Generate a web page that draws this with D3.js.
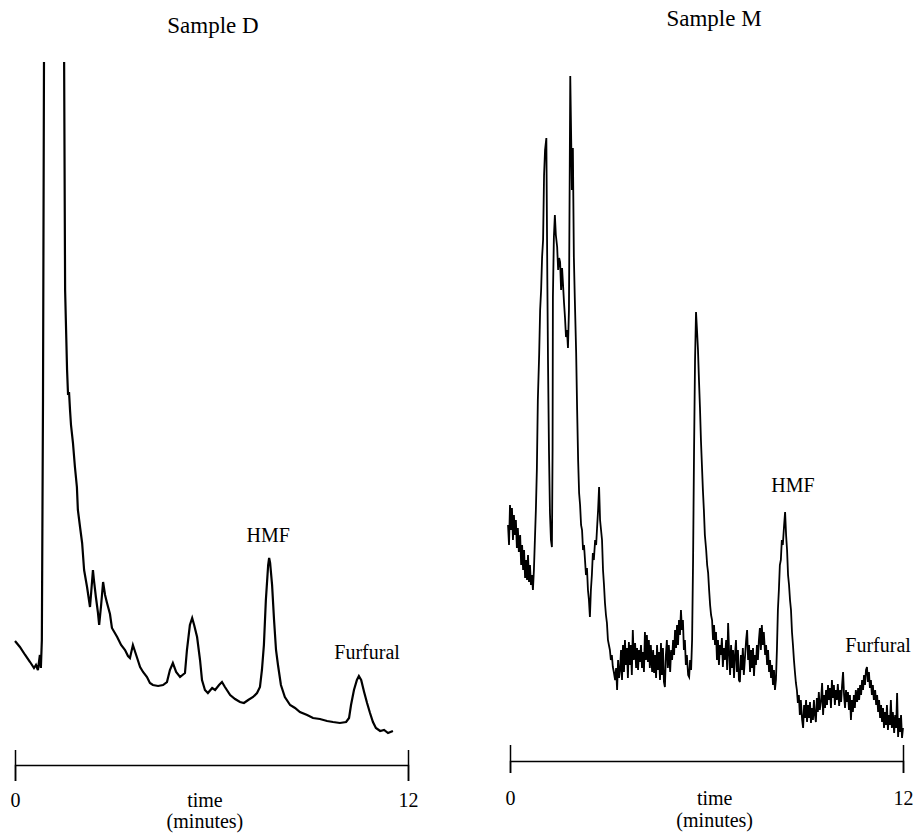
<!DOCTYPE html>
<html>
<head>
<meta charset="utf-8">
<script src="https://cdn.jsdelivr.net/npm/d3@7"></script>
<style>
  body { margin: 0; background: #fff; }
  text { font-family: "Liberation Serif", "Times New Roman", "DejaVu Serif", serif; fill: #000; }
  .axis path, .axis line { stroke: #000; stroke-width: 1.5; }
  .axis text { font-size: 20px; font-family: "Liberation Serif", "Times New Roman", serif; }
</style>
</head>
<body>
<div class="graph"></div>
<script>
/*---------- DATA ----------*/

// time (minutes), detector response (arbitrary units, 680 = top of plot)
const sampleD = [
  [0.00,101],[0.15,95],[0.31,87],[0.46,80],[0.58,74],[0.64,77],[0.70,72],[0.76,87],[0.79,74],[0.82,102],
  [0.855,342],[0.885,680],[0.92,900],[1.20,1400],[1.46,900],[1.50,680],[1.53,452],[1.59,372],[1.62,347],
  [1.65,350],[1.68,332],[1.71,317],[1.77,299],[1.83,275],[1.89,255],[1.92,232],[1.99,214],[2.05,199],
  [2.11,172],[2.20,155],[2.29,135],[2.32,147],[2.38,172],[2.41,162],[2.47,145],[2.53,130],[2.57,117],
  [2.63,137],[2.69,160],[2.75,147],[2.81,139],[2.90,128],[2.96,114],[3.12,105],[3.24,97],[3.36,92],
  [3.45,86],[3.51,84],[3.60,97],[3.70,87],[3.82,75],[3.91,70],[4.03,65],[4.12,59],[4.21,57],[4.37,56],
  [4.52,57],[4.64,60],[4.73,72],[4.82,79],[4.92,70],[5.04,65],[5.19,69],[5.25,92],[5.34,117],[5.41,124],
  [5.47,117],[5.56,105],[5.65,82],[5.71,62],[5.80,52],[5.89,49],[6.02,54],[6.11,52],[6.23,57],[6.32,60],
  [6.41,55],[6.57,47],[6.72,43],[6.87,40],[6.99,39],[7.12,42],[7.27,45],[7.39,49],[7.48,55],[7.54,72],
  [7.60,97],[7.66,142],[7.73,177],[7.76,184],[7.79,179],[7.85,157],[7.91,122],[7.97,92],[8.03,77],
  [8.12,57],[8.24,45],[8.40,37],[8.55,34],[8.70,30],[8.92,27],[9.10,24],[9.31,23],[9.53,21],[9.71,20],
  [9.92,19],[10.11,20],[10.20,24],[10.26,37],[10.35,52],[10.44,62],[10.50,66],[10.57,62],[10.66,50],
  [10.75,39],[10.84,29],[10.93,20],[11.02,14],[11.15,11],[11.27,12],[11.39,9],[11.54,11]
];

const sampleM = [
  [-0.06,217],[-0.03,197],[0.00,237],[0.03,212],[0.06,234],[0.09,202],[0.12,227],[0.15,207],[0.18,222],
  [0.21,194],[0.24,214],[0.27,190],[0.31,207],[0.34,177],[0.37,197],[0.40,172],[0.43,192],[0.46,164],
  [0.49,182],[0.52,162],[0.55,187],[0.58,160],[0.61,177],[0.64,157],[0.67,167],[0.70,152],[0.73,172],
  [0.76,202],[0.79,232],[0.82,272],[0.85,342],[0.89,387],[0.92,432],[0.95,452],[0.98,485],[1.01,502],
  [1.04,567],[1.07,592],[1.11,604],[1.14,462],[1.16,382],[1.19,292],[1.22,229],[1.25,202],[1.28,195],
  [1.30,292],[1.31,445],[1.34,505],[1.37,527],[1.40,507],[1.44,495],[1.47,472],[1.50,484],[1.53,480],
  [1.56,452],[1.59,474],[1.62,457],[1.65,439],[1.68,424],[1.71,405],[1.74,412],[1.77,394],[1.80,432],
  [1.82,549],[1.84,666],[1.86,622],[1.89,552],[1.92,594],[1.95,485],[1.98,442],[2.02,389],[2.05,332],
  [2.08,282],[2.11,249],[2.14,237],[2.17,217],[2.20,212],[2.23,192],[2.26,197],[2.29,182],[2.32,167],
  [2.35,174],[2.38,152],[2.41,142],[2.44,125],[2.47,152],[2.50,167],[2.53,189],[2.56,182],[2.60,202],
  [2.63,197],[2.66,215],[2.69,232],[2.72,255],[2.75,222],[2.78,212],[2.81,202],[2.84,172],[2.87,157],
  [2.90,139],[2.93,127],[2.96,119],[2.99,102],[3.02,97],[3.05,92],[3.08,82],[3.11,87],[3.14,75],
  [3.17,70],[3.21,62],[3.24,74],[3.27,52],[3.30,82],[3.33,64],[3.36,72],[3.39,92],[3.42,62],[3.45,97],
  [3.48,70],[3.51,102],[3.54,77],[3.57,94],[3.60,64],[3.63,100],[3.66,77],[3.69,97],[3.72,67],[3.75,112],
  [3.78,82],[3.82,99],[3.85,74],[3.88,94],[3.91,72],[3.94,92],[3.97,80],[4.00,97],[4.03,74],[4.06,90],
  [4.09,70],[4.12,110],[4.15,82],[4.18,107],[4.21,80],[4.24,102],[4.27,74],[4.30,97],[4.34,70],[4.37,92],
  [4.40,69],[4.43,87],[4.46,64],[4.49,97],[4.52,72],[4.55,90],[4.58,62],[4.61,99],[4.64,67],[4.67,94],
  [4.70,60],[4.73,55],[4.76,87],[4.79,102],[4.82,74],[4.85,97],[4.89,70],[4.92,92],[4.95,82],[4.98,102],
  [5.01,87],[5.04,112],[5.07,94],[5.10,117],[5.13,97],[5.16,122],[5.19,107],[5.22,132],[5.25,112],
  [5.28,122],[5.31,92],[5.34,102],[5.37,77],[5.40,87],[5.44,67],[5.47,65],[5.50,82],[5.53,72],[5.56,102],
  [5.59,182],[5.62,292],[5.65,382],[5.68,430],[5.71,412],[5.74,392],[5.77,362],[5.80,335],[5.83,302],
  [5.86,277],[5.89,252],[5.92,232],[5.95,207],[5.99,192],[6.02,177],[6.05,169],[6.08,152],[6.11,137],
  [6.14,127],[6.17,122],[6.20,102],[6.23,117],[6.26,97],[6.29,110],[6.32,82],[6.35,102],[6.38,77],
  [6.41,97],[6.44,87],[6.47,104],[6.50,75],[6.53,94],[6.56,82],[6.60,102],[6.63,72],[6.66,119],[6.69,90],
  [6.72,67],[6.75,97],[6.78,74],[6.81,92],[6.84,64],[6.87,87],[6.90,102],[6.93,70],[6.96,92],[6.99,62],
  [7.02,60],[7.05,87],[7.08,72],[7.11,94],[7.14,67],[7.18,87],[7.21,102],[7.24,112],[7.27,82],[7.30,97],
  [7.33,70],[7.36,92],[7.39,74],[7.42,94],[7.45,66],[7.48,87],[7.51,77],[7.54,97],[7.57,82],[7.60,102],
  [7.63,114],[7.66,92],[7.69,117],[7.72,97],[7.75,110],[7.79,87],[7.82,97],[7.85,77],[7.88,92],[7.91,70],
  [7.94,82],[7.97,64],[8.00,77],[8.03,57],[8.06,72],[8.09,52],[8.12,62],[8.15,92],[8.18,132],[8.21,152],
  [8.24,177],[8.27,182],[8.30,202],[8.33,197],[8.37,217],[8.40,230],[8.43,207],[8.46,192],[8.49,167],
  [8.52,157],[8.55,142],[8.58,132],[8.61,110],[8.64,97],[8.67,82],[8.70,70],[8.73,59],[8.76,52],[8.79,39],
  [8.82,47],[8.85,27],[8.88,42],[8.92,22],[8.95,14],[8.98,37],[9.01,24],[9.04,42],[9.07,20],[9.10,37],
  [9.13,24],[9.16,40],[9.19,19],[9.22,34],[9.25,22],[9.28,42],[9.31,27],[9.34,20],[9.37,44],[9.40,30],
  [9.43,50],[9.46,32],[9.50,42],[9.53,59],[9.56,27],[9.59,47],[9.62,34],[9.65,52],[9.68,37],[9.71,57],
  [9.74,42],[9.77,54],[9.80,34],[9.83,62],[9.86,44],[9.89,57],[9.92,37],[9.95,52],[9.98,42],[10.01,58],
  [10.05,36],[10.08,52],[10.11,40],[10.14,57],[10.17,70],[10.20,47],[10.23,34],[10.26,52],[10.29,40],
  [10.32,50],[10.35,32],[10.38,47],[10.41,22],[10.44,42],[10.47,30],[10.50,47],[10.53,34],[10.56,52],
  [10.60,40],[10.63,54],[10.66,42],[10.69,57],[10.72,47],[10.75,62],[10.78,52],[10.81,67],[10.84,57],
  [10.87,72],[10.90,75],[10.93,60],[10.96,70],[10.99,54],[11.02,62],[11.05,47],[11.08,57],[11.11,42],
  [11.15,52],[11.18,37],[11.21,47],[11.24,30],[11.27,42],[11.30,24],[11.33,37],[11.36,20],[11.39,34],
  [11.42,14],[11.45,30],[11.48,17],[11.51,37],[11.54,12],[11.57,27],[11.60,17],[11.63,42],[11.66,14],
  [11.69,30],[11.73,9],[11.76,27],[11.79,14],[11.82,49],[11.85,5],[11.88,24],[11.91,10],[11.94,27],
  [11.97,4],[12.00,14]
];

const timeTicks = [0, 12];
const titles = ["Sample D", "Sample M"];
const axisLabel = ["time", "(minutes)"];
// peak labels: [name, time, response]
const labelsD = [["HMF", 7.73, 200], ["Furfural", 10.75, 83]];
const labelsM = [["HMF", 8.64, 250], ["Furfural", 11.24, 90]];

/*---------- LAYOUT ----------*/

const SIZE = {X: 913, Y: 833};
const PLOT_TOP = 62, PLOT_BASE = 742;
const FONT = '"Liberation Serif", "Times New Roman", "DejaVu Serif", serif';

const PANELS = [
  {title: titles[0], data: sampleD, labels: labelsD, X0: 15, X1: 408, AXIS_Y: 765, STROKE: 2.2,
   TICK_UP: 15, TICK_DOWN: 16, LABEL_PAD: 12, TITLE_X: 213, TITLE_Y: 33, MID_T: 5.8, NAME_Y: [807, 828]},
  {title: titles[1], data: sampleM, labels: labelsM, X0: 510, X1: 903, AXIS_Y: 761, STROKE: 1.8,
   TICK_UP: 16, TICK_DOWN: 12, LABEL_PAD: 18, TITLE_X: 714, TITLE_Y: 26, MID_T: 6.25, NAME_Y: [805, 827]}
];

const svg = d3.select(".graph").append("svg")
    .attr("width", SIZE.X)
    .attr("height", SIZE.Y)
    .style("background", "#fff");

//one shared response scale, clipped at the top like the recorder trace
const y = d3.scaleLinear()
    .domain([0, 680])
    .range([PLOT_BASE, PLOT_TOP]);

svg.append("defs").append("clipPath")
    .attr("id", "clip")
    .append("rect")
    .attr("x", 0)
    .attr("y", PLOT_TOP)
    .attr("width", SIZE.X)
    .attr("height", SIZE.Y - PLOT_TOP);

PANELS.forEach(p => {
    const x = d3.scaleLinear()
        .domain([timeTicks[0], timeTicks[1]])
        .range([p.X0, p.X1]);

    const g = svg.append("g");

    //title
    g.append("text")
        .attr("x", p.TITLE_X)
        .attr("y", p.TITLE_Y)
        .attr("text-anchor", "middle")
        .style("font-family", FONT)
        .style("font-size", "23px")
        .text(p.title);

    //chromatogram trace
    const line = d3.line()
        .x(d => x(d[0]))
        .y(d => y(d[1]));

    g.append("path")
        .attr("d", line(p.data))
        .attr("fill", "none")
        .attr("stroke", "#000")
        .attr("stroke-width", p.STROKE)
        .attr("clip-path", "url(#clip)");

    //peak labels
    g.selectAll(".peak")
        .data(p.labels)
        .enter().append("text")
        .attr("class", "peak")
        .attr("x", d => x(d[1]))
        .attr("y", d => y(d[2]))
        .attr("text-anchor", "middle")
        .style("font-family", FONT)
        .style("font-size", "20px")
        .text(d => d[0]);

    //time axis, ticks going both ways
    g.append("g")
        .attr("class", "axis")
        .attr("transform", `translate(0, ${p.AXIS_Y})`)
        .call(d3.axisBottom(x).tickValues(timeTicks).tickSizeOuter(0)
            .tickSize(p.TICK_DOWN).tickPadding(p.LABEL_PAD).tickFormat(d3.format("d")));

    g.append("g")
        .attr("class", "axis")
        .attr("transform", `translate(0, ${p.AXIS_Y})`)
        .call(d3.axisTop(x).tickValues(timeTicks).tickSizeOuter(0)
            .tickSize(p.TICK_UP).tickFormat(""))
        .select(".domain").remove();

    g.selectAll(".axis text")
        .style("font-family", FONT)
        .style("font-size", "20px");

    //axis name
    axisLabel.forEach((t, i) => {
        g.append("text")
            .attr("x", x(p.MID_T))
            .attr("y", p.NAME_Y[i])
            .attr("text-anchor", "middle")
            .style("font-family", FONT)
            .style("font-size", "20px")
            .text(t);
    });
});
</script>
</body>
</html>
